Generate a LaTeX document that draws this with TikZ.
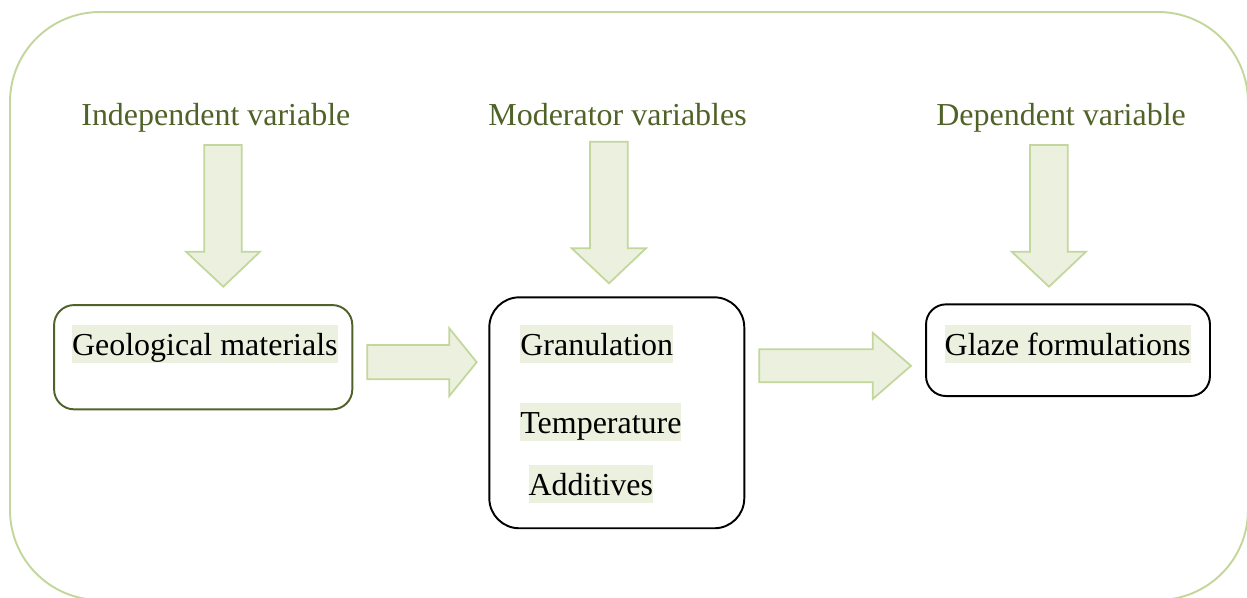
\documentclass[tikz,border=0pt]{standalone}
\usepackage{fontspec}
\setmainfont{Liberation Serif}
\definecolor{framegreen}{HTML}{C3D69B}
\definecolor{hlgreen}{HTML}{EBF1DE}
\definecolor{olive}{HTML}{4F6228}
\tikzset{
  outerframe/.style={draw=framegreen, line width=1.1pt, rounded corners=1.8cm},
  blockarrow/.style={fill=hlgreen, draw=framegreen, line width=1pt, line join=miter},
  varbox/.style={draw, line width=1.1pt, inner sep=0pt},
  header/.style={anchor=base west, inner sep=0pt, text=olive,
    font=\fontsize{18.2}{22}\selectfont},
  item/.style={anchor=base west, inner sep=0pt, fill=hlgreen,
    text height=17.2pt, text depth=4.3pt,
    font=\fontsize{18.2}{22}\selectfont}
}
\begin{document}
\begin{tikzpicture}[x=0.02cm, y=-0.02cm]
\useasboundingbox (0,0) rectangle (1247,598);

% surrounding frame, partly running off the page
\begin{scope}
  \clip (0,0) rectangle (1247,598);
  \draw[outerframe] (10,12) rectangle (1248,600);
\end{scope}

% the three boxes
\node[varbox, draw=olive, rounded corners=0.4cm,
      minimum width=5.966cm, minimum height=2.086cm] (geo) at (203.2,357.2) {};
\node[varbox, rounded corners=0.6cm,
      minimum width=5.1cm, minimum height=4.62cm] (mod) at (616.8,412.8) {};
\node[varbox, rounded corners=0.4cm,
      minimum width=5.68cm, minimum height=1.834cm] (glaze) at (1068,350.2) {};

% headings
\node[header] (hind) at (81,126) {Independent variable};
\node[header] (hmod) at (488,126) {Moderator variables};
\node[header] (hdep) at (936,126) {Dependent variable};

% box contents
\node[item] (tgeo) at (71.7,355.5) {Geological materials};
\node[item] (tgran) at (520,355.5) {Granulation};
\node[item] (ttemp) at (520,433) {Temperature};
\node[item] (tadd) at (528.3,495.7) {Additives};
\node[item] (tglaze) at (944.3,355.5) {Glaze formulations};

% downward block arrows under the headings
\draw[blockarrow] (204.3,145) -- (241.7,145) -- (241.7,251.7) -- (260,251.7)
  -- (223.3,286.7) -- (186,251.7) -- (204.3,251.7) -- cycle;
\draw[blockarrow] (590,141.7) -- (627.7,141.7) -- (627.7,248.3) -- (646,248.3)
  -- (609,283.3) -- (571.7,248.3) -- (590,248.3) -- cycle;
\draw[blockarrow] (1030,145) -- (1067.7,145) -- (1067.7,251.7) -- (1086,251.7)
  -- (1049,286.7) -- (1011.7,251.7) -- (1030,251.7) -- cycle;

% block arrows between the boxes
\draw[blockarrow] (367.3,345) -- (449.3,345) -- (449.3,328.3) -- (476.7,362.2)
  -- (449.3,396) -- (449.3,379.3) -- (367.3,379.3) -- cycle;
\draw[blockarrow] (759.3,349.3) -- (872.7,349.3) -- (872.7,332.7) -- (911,365.8)
  -- (872.7,399) -- (872.7,382.3) -- (759.3,382.3) -- cycle;
\end{tikzpicture}
\end{document}
